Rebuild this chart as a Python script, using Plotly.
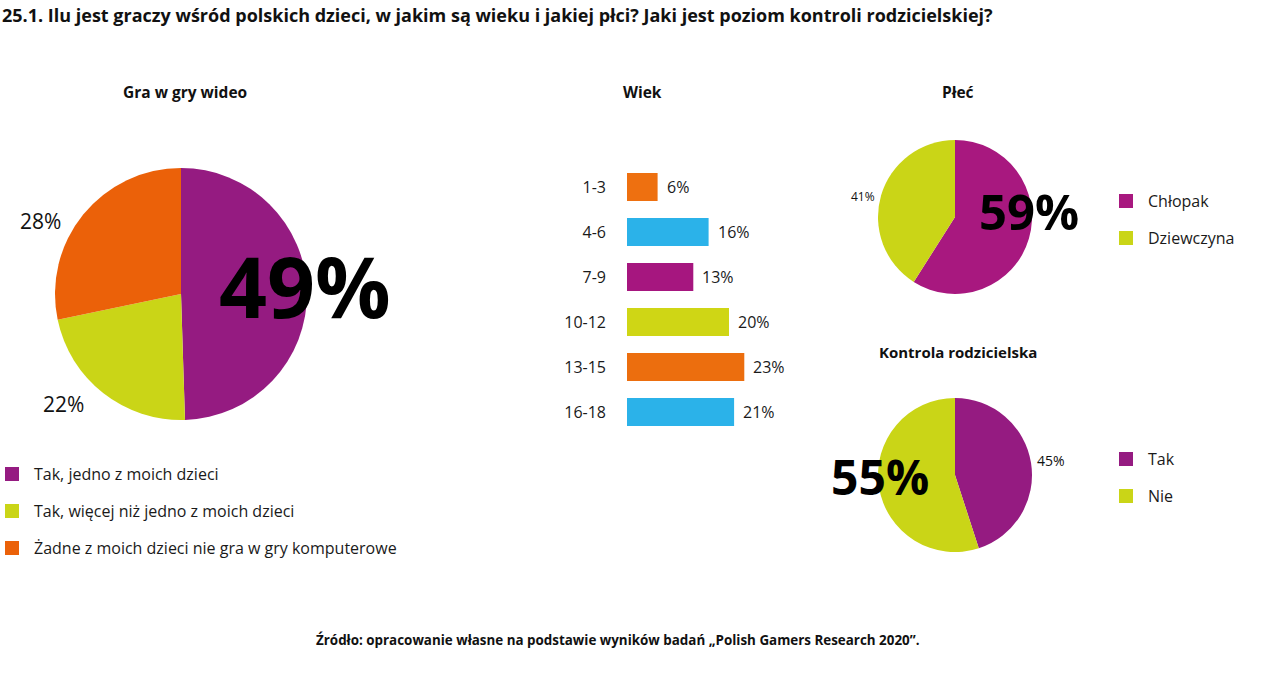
import plotly.graph_objects as go

# ---------------- data ----------------
title_text = "25.1. Ilu jest graczy wśród polskich dzieci, w jakim są wieku i jakiej płci? Jaki jest poziom kontroli rodzicielskiej?"
source_text = "Źródło: opracowanie własne na podstawie wyników badań „Polish Gamers Research 2020”."

games_labels = ["Tak, jedno z moich dzieci", "Tak, więcej niż jedno z moich dzieci",
                "Żadne z moich dzieci nie gra w gry komputerowe"]
games_values = [49, 22, 28]

age_labels = ["1-3", "4-6", "7-9", "10-12", "13-15", "16-18"]
age_values = [6, 16, 13, 20, 23, 21]

gender_labels = ["Chłopak", "Dziewczyna"]
gender_values = [59, 41]

control_labels = ["Tak", "Nie"]
control_values = [45, 55]

# ---------------- styles ----------------
FONT = "Open Sans"
C_PURPLE = "#951B81"
C_YG = "#CAD517"
C_OR = "#EB6109"
C_MAG = "#A8187F"
games_colors = [C_PURPLE, C_YG, C_OR]
age_colors = ["#EE7010", "#2BB2E9", "#A6167F", "#CFD615", "#EC6E0E", "#2BB2E9"]
gender_colors = [C_MAG, C_YG]
control_colors = [C_PURPLE, C_YG]

W, H = 1280, 674


def px(x):
    return x / W


def py(y):
    return 1 - y / H


fig = go.Figure()

# Pie 1
fig.add_trace(go.Pie(labels=games_labels, values=games_values, sort=False,
                     direction="clockwise", rotation=0, textinfo="none",
                     marker=dict(colors=games_colors, line=dict(width=0)),
                     domain=dict(x=[px(55), px(307)], y=[py(420), py(168)]),
                     showlegend=False, hoverinfo="label+percent"))
# Pie 2
fig.add_trace(go.Pie(labels=gender_labels, values=gender_values, sort=False,
                     direction="clockwise", rotation=0, textinfo="none",
                     marker=dict(colors=gender_colors, line=dict(width=0)),
                     domain=dict(x=[px(878), px(1032)], y=[py(294), py(140)]),
                     showlegend=False, hoverinfo="label+percent"))
# Pie 3
fig.add_trace(go.Pie(labels=control_labels, values=control_values, sort=False,
                     direction="clockwise", rotation=0, textinfo="none",
                     marker=dict(colors=control_colors, line=dict(width=0)),
                     domain=dict(x=[px(878), px(1032)], y=[py(552), py(398)]),
                     showlegend=False, hoverinfo="label+percent"))

# Bars
fig.add_trace(go.Bar(y=age_labels, x=age_values, orientation="h",
                     marker=dict(color=age_colors, line=dict(width=0)),
                     width=0.62, showlegend=False, hoverinfo="y+x"))

bar_px_per_unit = 5.1
x_dom = [px(627), px(800)]
fig.update_layout(
    xaxis=dict(domain=x_dom, range=[0, (800 - 627) / bar_px_per_unit],
               visible=False, fixedrange=True),
    yaxis=dict(type="category", domain=[py(434.5), py(164.5)], autorange="reversed",
               showgrid=False, zeroline=False, showline=False, ticks="",
               tickfont=dict(family=FONT, size=16, color="#1a1a1a"),
               ticklabelstandoff=20, anchor="x"),
)

ann = []


def text(x, y, s, size, bold=False, xanchor="center", color="#111111"):
    ann.append(dict(x=px(x), y=py(y), xref="paper", yref="paper", text=s,
                    showarrow=False, xanchor=xanchor, yanchor="middle",
                    font=dict(family=FONT, size=size, color=color,
                              weight="bold" if bold else "normal")))


# title & source
text(0, 15, title_text, 18, bold=True, xanchor="left")
text(618, 640, source_text, 13.4, bold=True)

# panel titles
text(185, 92, "Gra w gry wideo", 15.5, bold=True)
text(642, 92, "Wiek", 15.5, bold=True)
text(958, 92, "Płeć", 15.5, bold=True)
text(958, 352, "Kontrola rodzicielska", 15, bold=True)

# pie value labels
text(305, 285, f"{games_values[0]}%", 84, bold=True, color="#000000")
text(63, 404, f"{games_values[1]}%", 21)
text(40, 221, f"{games_values[2]}%", 21)
text(1029, 211, f"{gender_values[0]}%", 49, bold=True, color="#000000")
text(863, 197, f"{gender_values[1]}%", 12)
text(1051, 460, f"{control_values[0]}%", 14)
text(880, 477, f"{control_values[1]}%", 48, bold=True, color="#000000")

# bar value labels
for lab, v in zip(age_labels, age_values):
    ann.append(dict(x=v, y=lab, xref="x", yref="y", text=f"{v}%", showarrow=False,
                    xanchor="left", yanchor="middle", xshift=7,
                    font=dict(family=FONT, size=16, color="#1a1a1a")))

# legends (swatches + text)
shapes = []


def legend_item(x, y, color, label, size=16):
    shapes.append(dict(type="rect", xref="paper", yref="paper",
                       x0=px(x), x1=px(x + 14), y0=py(y + 7), y1=py(y - 7),
                       fillcolor=color, line=dict(width=0)))
    text(x + 27, y, label, size, xanchor="left", color="#1a1a1a")


for i, (lab, col) in enumerate(zip(games_labels, games_colors)):
    legend_item(5, 474 + 37 * i, col, lab)
for i, (lab, col) in enumerate(zip(gender_labels, gender_colors)):
    legend_item(1119, 201 + 37 * i, col, lab)
for i, (lab, col) in enumerate(zip(control_labels, control_colors)):
    legend_item(1119, 459 + 37 * i, col, lab)

fig.update_layout(
    width=W, height=H, margin=dict(l=0, r=0, t=0, b=0),
    paper_bgcolor="white", plot_bgcolor="white",
    annotations=ann, shapes=shapes, showlegend=False,
    font=dict(family=FONT),
)

fig.write_html("out.html")
